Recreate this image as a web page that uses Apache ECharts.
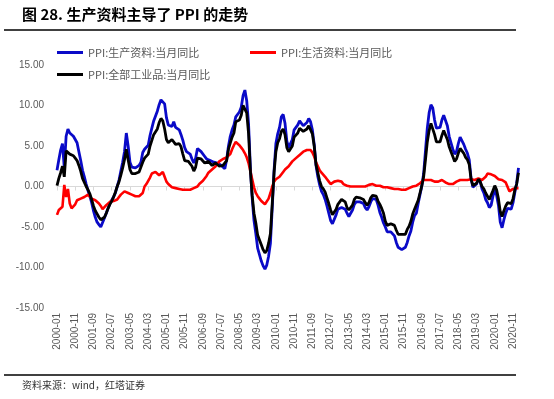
<!DOCTYPE html>
<html><head><meta charset="utf-8">
<script src="https://cdn.jsdelivr.net/npm/echarts@6/dist/echarts.min.js"></script>
<style>html,body{margin:0;padding:0;background:#fff}#c{width:554px;height:399px}</style>
</head><body><div id="c"></div>
<script>
// Categories: monthly 2000-01 .. 2021-02
const startYear = 2000, endYear = 2021, endMonth = 2;
const categories = [];
for (let y = startYear; y <= endYear; y++) {
  for (let m = 1; m <= 12; m++) {
    if (y === endYear && m > endMonth) break;
    categories.push(y + '-' + (m < 10 ? '0' + m : m));
  }
}
const yTicks = [-15, -10, -5, 0, 5, 10, 15];
const seriesNames = ['PPI:生产资料:当月同比', 'PPI:生活资料:当月同比', 'PPI:全部工业品:当月同比'];

// PPI: production materials, YoY (%)
const producer = [
  2.0, 3.3, 4.5, 5.3, 2.3, 6.2, 7.1, 6.6, 6.4, 6.2, 6.0, 5.4,
  4.3, 3.2, 2.0, 1.2, 0.3, -0.5, -1.2, -2.0, -3.0, -3.8, -4.4, -4.7,
  -5.0, -4.8, -3.9, -3.3, -2.7, -2.1, -1.9, -1.3, -0.8, 0.0, 0.8, 1.9,
  3.0, 4.3, 6.6, 5.0, 3.0, 2.4, 2.3, 2.3, 2.4, 2.6, 3.0, 4.2,
  4.6, 4.7, 5.1, 6.3, 7.2, 8.1, 8.3, 9.3, 10.1, 10.7, 10.5, 10.2,
  8.5, 7.6, 7.5, 7.4, 8.0, 7.3, 7.1, 7.0, 6.4, 5.7, 4.8, 4.3,
  4.1, 4.0, 3.4, 2.9, 3.5, 4.7, 4.6, 4.3, 4.2, 3.7, 3.4, 3.3,
  3.2, 3.0, 3.0, 3.0, 2.9, 2.9, 2.6, 2.5, 2.2, 3.3, 5.0, 6.2,
  7.0, 7.6, 8.6, 8.8, 9.2, 9.8, 11.2, 11.9, 10.6, 7.8, 2.4, -1.4,
  -4.2, -5.8, -7.6, -8.4, -9.2, -9.8, -10.2, -9.7, -8.6, -7.0, -2.6, 2.0,
  5.3, 6.5, 7.3, 8.6, 8.9, 7.8, 5.6, 4.8, 4.8, 5.8, 7.0, 7.2,
  7.6, 8.1, 8.0, 7.5, 7.6, 7.9, 8.4, 8.0, 7.0, 5.2, 2.6, 1.2,
  0.2, -0.6, -1.0, -1.6, -2.4, -3.3, -4.2, -4.6, -4.5, -3.5, -2.8, -2.6,
  -2.6, -2.6, -2.8, -3.3, -3.7, -3.5, -2.9, -2.2, -1.9, -1.9, -1.9, -2.0,
  -2.1, -2.6, -2.9, -2.5, -1.9, -1.5, -1.3, -1.6, -2.3, -3.2, -3.8, -4.5,
  -5.0, -5.6, -5.5, -5.6, -5.7, -6.1, -6.9, -7.5, -7.7, -7.8, -7.7, -7.5,
  -6.9, -6.1, -5.5, -4.4, -3.6, -3.3, -2.1, -1.0, 0.1, 1.6, 4.4, 7.2,
  9.1, 10.1, 9.7, 8.2, 7.2, 7.3, 7.3, 8.2, 8.8, 8.6, 7.5, 6.2,
  5.4, 4.6, 4.0, 4.3, 5.3, 6.1, 6.0, 5.2, 4.6, 4.1, 3.3, 1.0,
  -0.1, -0.1, 0.3, 0.9, 0.6, -0.3, -0.8, -1.6, -2.0, -2.6, -2.3, -1.2,
  -0.4, -1.1, -2.3, -4.4, -5.1, -4.1, -3.3, -2.7, -2.8, -2.8, -2.0, -0.7,
  0.4, 2.3
];
// PPI: consumer (living) materials, YoY (%)
const consumer = [
  -3.5, -2.9, -2.8, -2.5, 0.2, -1.3, -0.3, -2.1, -2.7, -2.6, -2.2, -1.7,
  -1.6, -1.5, -1.4, -1.3, -1.1, -1.0, -1.2, -1.5, -1.6, -1.7, -1.9, -2.1,
  -2.4, -2.8, -2.6, -2.3, -2.1, -1.9, -1.8, -1.8, -1.7, -1.6, -1.3, -1.0,
  -0.8, -0.6, -0.6, -0.8, -0.9, -1.0, -1.1, -1.2, -1.2, -1.2, -1.1, -0.8,
  0.0, 0.3, 0.7, 1.1, 1.6, 1.8, 1.8, 1.7, 1.4, 1.5, 1.8, 1.2,
  0.6, 0.3, 0.1, -0.1, -0.2, -0.2, -0.3, -0.3, -0.4, -0.4, -0.4, -0.4,
  -0.4, -0.4, -0.3, -0.2, -0.2, 0.0, 0.3, 0.5, 0.7, 0.9, 1.3, 1.7,
  1.9, 2.1, 2.3, 2.5, 2.8, 3.1, 3.3, 3.4, 3.5, 3.6, 3.8, 4.0,
  4.6, 5.1, 5.5, 5.4, 5.1, 4.8, 4.5, 4.1, 3.6, 2.9, 1.9, 0.9,
  -0.1, -0.8, -1.2, -1.5, -1.8, -2.0, -2.2, -2.0, -1.5, -0.8, 0.0, 0.6,
  0.9, 1.0, 1.2, 1.4, 1.8, 2.1, 2.3, 2.5, 2.7, 3.1, 3.3, 3.5,
  3.7, 3.9, 4.1, 4.3, 4.4, 4.5, 4.5, 4.5, 4.2, 3.7, 3.0, 2.5,
  2.0, 1.7, 1.5, 1.2, 0.9, 0.6, 0.3, 0.4, 0.6, 0.6, 0.7, 0.8,
  0.6, 0.3, 0.2, 0.1, 0.0, 0.0, 0.0, 0.0, 0.1, 0.0, -0.2, 0.0,
  -0.2, 0.0, 0.1, 0.2, 0.3, 0.3, 0.2, 0.1, 0.2, 0.1, 0.0, -0.1,
  -0.1, -0.1, -0.1, -0.2, -0.2, -0.3, -0.3, -0.3, -0.3, -0.4, -0.4, -0.4,
  -0.3, -0.2, -0.1, 0.0, 0.0, 0.1, 0.2, 0.4, 0.6, 0.8, 0.8, 0.8,
  0.8, 0.8, 0.7, 0.6, 0.6, 0.6, 0.7, 0.8, 0.6, 0.5, 0.4, 0.3,
  0.2, 0.3, 0.5, 0.6, 0.8, 0.8, 0.8, 0.8, 0.8, 0.8, 0.8, 0.9,
  0.8, 0.8, 0.9, 1.0, 1.0, 0.8, 0.8, 1.2, 1.6, 1.6, 1.5, 1.4,
  1.3, 1.1, 0.9, 0.8, 0.8, 0.7, 0.5, 0.3, -0.6, -0.6, -0.3, -0.2,
  -0.2, -0.2
];
// PPI: all industrial products, YoY (%)
const overall = [
  0.1, 1.0, 1.7, 2.5, 1.2, 4.4, 4.3, 4.0, 3.9, 3.8, 3.5, 3.2,
  2.6, 1.9, 1.0, 0.5, 0.0, -0.4, -0.9, -1.6, -2.4, -3.0, -3.4, -3.8,
  -4.1, -4.2, -3.8, -3.3, -2.7, -2.2, -1.8, -1.3, -0.7, 0.0, 0.6, 1.4,
  2.3, 3.3, 4.6, 3.3, 2.1, 1.6, 1.5, 1.6, 1.6, 1.8, 2.0, 3.0,
  3.5, 3.6, 4.0, 5.0, 5.7, 6.4, 6.4, 7.1, 7.9, 8.4, 8.1, 7.1,
  5.8, 5.4, 5.6, 5.8, 5.9, 5.2, 5.2, 5.3, 4.9, 4.0, 3.2, 3.2,
  3.1, 3.0, 2.5, 1.9, 2.4, 3.5, 3.6, 3.4, 3.5, 2.9, 2.8, 3.1,
  3.3, 2.6, 2.7, 2.9, 2.8, 2.5, 2.4, 2.6, 2.7, 3.2, 4.6, 5.4,
  6.1, 6.6, 8.0, 8.1, 8.2, 8.8, 10.0, 10.1, 9.1, 6.6, 2.0, -1.1,
  -3.3, -4.5, -6.0, -6.6, -7.2, -7.8, -8.2, -7.9, -7.0, -5.8, -2.1, 1.7,
  4.3, 5.4, 5.9, 6.8, 7.1, 6.4, 4.8, 4.3, 4.3, 5.0, 6.1, 5.9,
  6.6, 7.2, 7.3, 6.8, 6.8, 7.1, 7.5, 7.3, 6.5, 5.0, 2.7, 1.7,
  0.7, 0.0, -0.3, -0.7, -1.4, -2.1, -2.9, -3.5, -3.6, -2.8, -2.2, -1.9,
  -1.6, -1.6, -1.9, -2.6, -2.9, -2.7, -2.3, -1.6, -1.3, -1.5, -1.4, -1.4,
  -1.6, -2.0, -2.3, -2.0, -1.4, -1.1, -0.9, -1.2, -1.8, -2.2, -2.7, -3.3,
  -4.3, -4.8, -4.6, -4.6, -4.6, -4.8, -5.4, -5.9, -5.9, -5.9, -5.9, -5.9,
  -5.3, -4.9, -4.3, -3.4, -2.8, -2.6, -1.7, -0.8, 0.1, 1.2, 3.3, 5.5,
  6.9, 7.8, 7.6, 6.4, 5.5, 5.5, 5.5, 6.3, 6.9, 6.9, 5.8, 4.9,
  4.3, 3.7, 3.1, 3.4, 4.1, 4.7, 4.6, 4.1, 3.6, 3.3, 2.7, 0.9,
  0.1, 0.1, 0.4, 0.9, 0.6, 0.0, -0.3, -0.8, -1.2, -1.6, -1.4, -0.5,
  0.1, -0.4, -1.5, -3.1, -3.7, -3.0, -2.4, -2.0, -2.1, -2.1, -1.5, -0.4,
  0.3, 1.7
];

const chart = echarts.init(document.getElementById('c'), null, {renderer: 'canvas'});
const cjk = '"Noto Sans CJK SC", "Noto Sans", sans-serif';
const legendBase = {
  orient: 'horizontal', padding: 0, icon: 'rect', itemWidth: 26, itemHeight: 3,
  textStyle: {fontSize: 11, color: '#595959', fontFamily: cjk}
};
chart.setOption({
  animation: false,
  backgroundColor: '#fff',
  grid: {left: 57, right: 35.5, top: 65, bottom: 91},
  legend: [
    Object.assign({}, legendBase, {data: [seriesNames[0]], left: 57, top: 47}),
    Object.assign({}, legendBase, {data: [seriesNames[1]], left: 250, top: 47}),
    Object.assign({}, legendBase, {data: [seriesNames[2]], left: 57, top: 69})
  ],
  xAxis: [
    {
      type: 'category', data: categories, boundaryGap: false,
      axisLine: {show: false, onZero: false}, axisTick: {show: false},
      axisLabel: {rotate: 90, interval: 9, margin: 5, fontSize: 10, color: '#595959', fontFamily: '"Liberation Sans", Arial, sans-serif'}
    },
    {
      type: 'category', data: categories, boundaryGap: false, position: 'bottom',
      axisLine: {show: true, onZero: true, lineStyle: {color: '#d9d9d9', width: 1}},
      axisTick: {show: true, interval: 9, length: 4, lineStyle: {color: '#d9d9d9'}},
      axisLabel: {show: false}
    }
  ],
  yAxis: {
    type: 'value', min: yTicks[0], max: yTicks[yTicks.length - 1], interval: 5,
    splitLine: {show: false}, axisLine: {show: false}, axisTick: {show: false},
    axisLabel: {margin: 13, fontSize: 10, color: '#595959', fontFamily: '"Liberation Sans", Arial, sans-serif',
      formatter: v => v.toFixed(2)}
  },
  series: [
    {name: seriesNames[0], type: 'line', data: producer, showSymbol: false, symbol: 'none',
      lineStyle: {color: '#0a0ac8', width: 2.8}, itemStyle: {color: '#0a0ac8'}, z: 2},
    {name: seriesNames[1], type: 'line', data: consumer, showSymbol: false, symbol: 'none',
      lineStyle: {color: '#ff0000', width: 2.6}, itemStyle: {color: '#ff0000'}, z: 3},
    {name: seriesNames[2], type: 'line', data: overall, showSymbol: false, symbol: 'none',
      lineStyle: {color: '#000000', width: 2.8}, itemStyle: {color: '#000000'}, z: 4}
  ],
  graphic: [
    {type: 'text', left: 22, top: 7, style: {text: '图 28. 生产资料主导了 PPI 的走势', fontSize: 15, fontWeight: 'bold', fill: '#000', fontFamily: cjk}},
    {type: 'line', shape: {x1: 4, y1: 30, x2: 516, y2: 30}, style: {stroke: '#000', lineWidth: 1.5}},
    {type: 'line', shape: {x1: 4, y1: 375, x2: 516, y2: 375}, style: {stroke: '#000', lineWidth: 1.5}},
    {type: 'text', left: 22, top: 380, style: {text: '资料来源：wind，红塔证券', fontSize: 10, fill: '#333', fontFamily: cjk}}
  ]
});
</script></body></html>
